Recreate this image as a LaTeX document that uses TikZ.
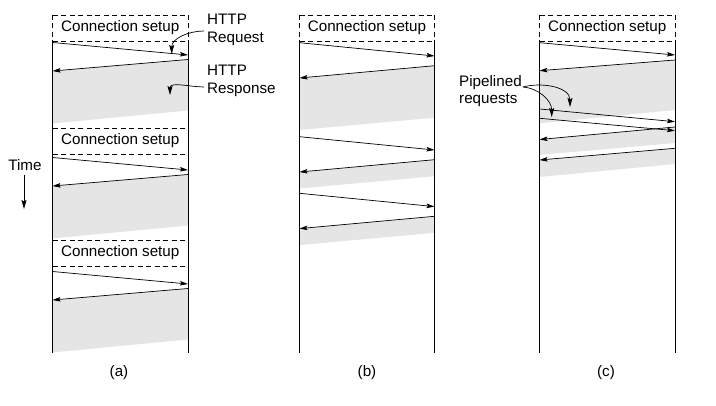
\documentclass[tikz,border=0pt]{standalone}
\usepackage{fontspec}
\setmainfont{Liberation Sans}
\usetikzlibrary{arrows.meta}
\definecolor{shadeGray}{RGB}{229,229,229}

\begin{document}
\begin{tikzpicture}[x=1pt,y=-1pt,
    font=\fontsize{15.2}{17.5}\selectfont,
    wire/.style={line width=0.9pt},
    setupLine/.style={line width=0.8pt,dash pattern=on 5pt off 3.5pt},
    msgArrow/.style={line width=0.7pt,-{Stealth[length=8pt,width=4.5pt,inset=1.5pt]}},
    callout/.style={line width=0.7pt,-{Stealth[length=9pt,width=5pt,inset=1.5pt]}},
    respShade/.style={fill=shadeGray,draw=none},
  ]
  \useasboundingbox (0,0) rectangle (716,406);
  \def\aL{52.5}  \def\aR{188}
  \def\bL{299.5} \def\bR{434.5}
  \def\cL{539.5} \def\cR{675}

  % (a) one connection per request
  \foreach \k/\top/\req in {0/15/42.5, 1/128/157.5, 2/240/271.5}
  {
    \coordinate (aReqS\k) at (\aL,\req);
    \coordinate (aReqE\k) at (\aR,\req+12.5);
    \coordinate (aRspS\k) at (\aR,\req+17);
    \coordinate (aRspE\k) at (\aL,\req+28.5);
    \fill[respShade] (aRspS\k) -- (aRspE\k) -- (\aL,\req+81) -- (\aR,\req+68) -- cycle;
    \draw[setupLine] (\aL,\top) -- (\aR,\top);
    \draw[setupLine] (\aL,\top+26) -- (\aR,\top+26);
    \node (aSetup\k) at ({(\aL+\aR)/2},\top+13) {Connection setup};
    \draw[msgArrow] (aReqS\k) -- (aReqE\k);
    \draw[msgArrow] (aRspS\k) -- (aRspE\k);
  }

  % (b) persistent connection
  \foreach \k/\req/\depth in {0/42.7/52, 1/136.7/16.5, 2/193.3/16.5}
  {
    \coordinate (bReqS\k) at (\bL,\req);
    \coordinate (bReqE\k) at (\bR,\req+13.3);
    \coordinate (bRspS\k) at (\bR,\req+23);
    \coordinate (bRspE\k) at (\bL,\req+35.3);
    \fill[respShade] (bRspS\k) -- (bRspE\k) -- (\bL,\req+35.3+\depth) -- (\bR,\req+23+\depth) -- cycle;
    \draw[msgArrow] (bReqS\k) -- (bReqE\k);
    \draw[msgArrow] (bRspS\k) -- (bRspE\k);
  }
  \draw[setupLine] (\bL,15) -- (\bR,15);
  \draw[setupLine] (\bL,41) -- (\bR,41);
  \node (bSetup) at ({(\bL+\bR)/2},28) {Connection setup};

  % (c) pipelined requests
  \coordinate (cReqS0) at (\cL,42.7);  \coordinate (cReqE0) at (\cR,55);
  \coordinate (cRspS0) at (\cR,60);    \coordinate (cRspE0) at (\cL,70.7);
  \coordinate (cReqS1) at (\cL,109);   \coordinate (cReqE1) at (\cR,121.7);
  \coordinate (cReqS2) at (\cL,118.3); \coordinate (cReqE2) at (\cR,130.7);
  \coordinate (cRspS1) at (\cR,127);   \coordinate (cRspE1) at (\cL,139.5);
  \coordinate (cRspS2) at (\cR,148.3); \coordinate (cRspE2) at (\cL,160);
  \fill[respShade] (cRspS0) -- (cRspE0) -- (\cL,123.3) -- (\cR,110) -- cycle;
  \fill[respShade] (cRspS1) -- (cRspE1) -- (\cL,155) -- (\cR,143) -- cycle;
  \fill[respShade] (cRspS2) -- (cRspE2) -- (\cL,177) -- (\cR,164) -- cycle;
  \foreach \k in {0,1,2}
  {
    \draw[msgArrow] (cReqS\k) -- (cReqE\k);
    \draw[msgArrow] (cRspS\k) -- (cRspE\k);
  }
  \draw[setupLine] (\cL,15) -- (\cR,15);
  \draw[setupLine] (\cL,41) -- (\cR,41);
  \node (cSetup) at ({(\cL+\cR)/2},28) {Connection setup};

  % time lines
  \foreach \x in {\aL,\aR,\bL,\bR,\cL,\cR}
  {
    \draw[setupLine] (\x,15) -- (\x,41);
    \draw[wire] (\x,41) -- (\x,353);
  }

  % labels
  \node[anchor=west,align=left,inner sep=0pt] (lblReq) at (207,30) {HTTP\\Request};
  \node[anchor=west,align=left,inner sep=0pt] (lblRsp) at (207,81) {HTTP\\Response};
  \node[anchor=west,align=left,inner sep=0pt] (lblPipe) at (459,91) {Pipelined\\requests};
  \coordinate (tipReq) at (171.7,54);
  \coordinate (tipRsp) at (170,95);
  \coordinate (tipPipeA) at (570,107);
  \coordinate (tipPipeB) at (551.7,117);
  \draw[callout] ([xshift=-3pt,yshift=-1pt]lblReq.west) to[out=180,in=90] (tipReq);
  \draw[callout] ([xshift=-3pt,yshift=-6pt]lblRsp.west) to[out=180,in=90] (tipRsp);
  \draw[callout] ([xshift=1pt,yshift=4pt]lblPipe.east) to[out=15,in=90] (tipPipeA);
  \draw[callout] ([xshift=1pt,yshift=4pt]lblPipe.east) to[out=-5,in=90] (tipPipeB);

  \node (lblTime) at (25,165) {Time};
  \coordinate (timeEnd) at (24,209);
  \draw[callout] (24,175) -- (timeEnd);

  \node (capA) at (119,373) {(a)};
  \node (capB) at (367,373) {(b)};
  \node (capC) at (606,373) {(c)};
\end{tikzpicture}
\end{document}
